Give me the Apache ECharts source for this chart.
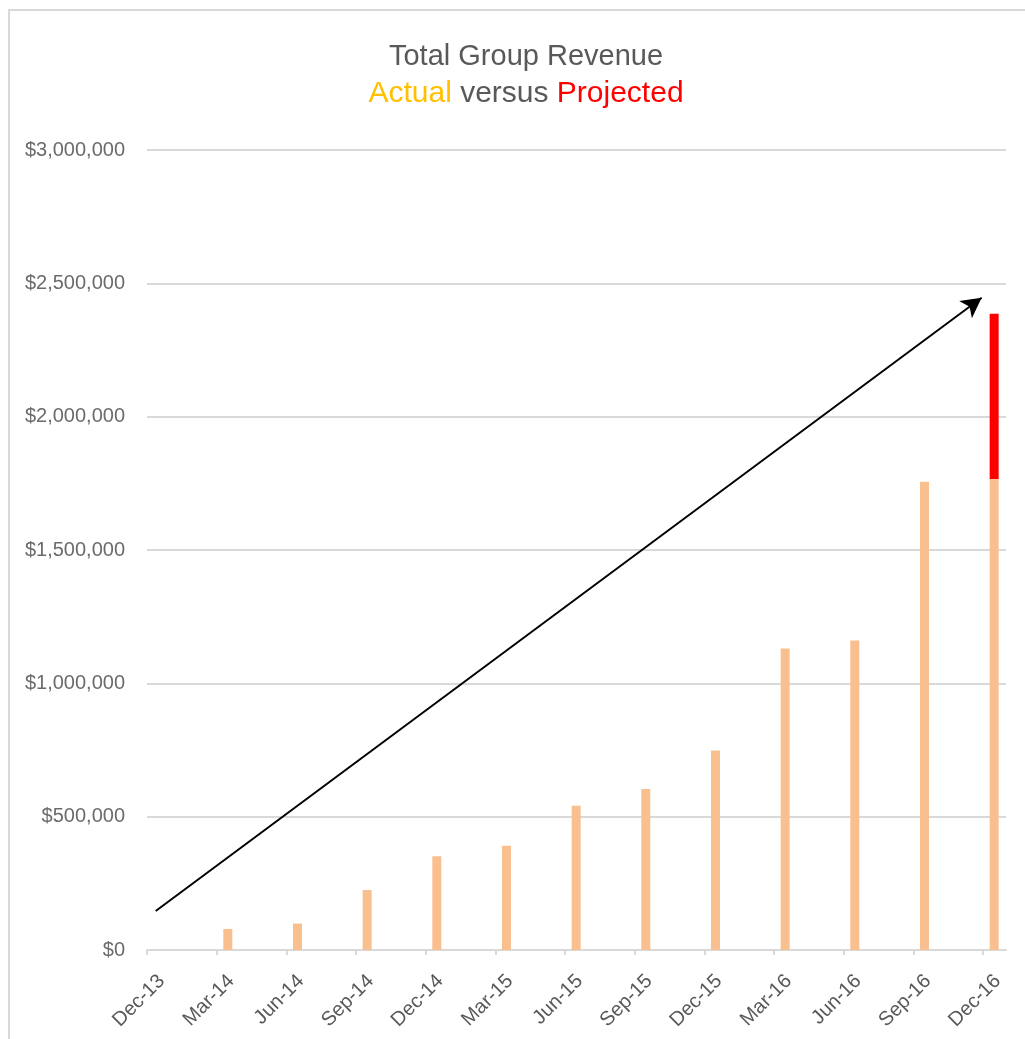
<!DOCTYPE html>
<html>
<head>
<meta charset="utf-8">
<script src="https://cdn.jsdelivr.net/npm/echarts@6/dist/echarts.min.js"></script>
<style>
  html, body { margin: 0; padding: 0; background: #fff; }
  #chart { width: 1025px; height: 1039px; }
</style>
</head>
<body>
<div id="chart"></div>
<script>
// ---- data ----
const categories = ['Dec-13','Mar-14','Jun-14','Sep-14','Dec-14','Mar-15','Jun-15','Sep-15','Dec-15','Mar-16','Jun-16','Sep-16','Dec-16'];
const actualValues = [null, 79000, 99000, 225000, 352000, 391000, 541000, 604000, 748000, 1131000, 1161000, 1756000, 1765000];
const projectedValues = [null, null, null, null, null, null, null, null, null, null, null, null, 621000];
const yTickValues = [0, 500000, 1000000, 1500000, 2000000, 2500000, 3000000];
// trend arrow annotation, in data units (quarter index, revenue)
const trendStart = [0.125, 146000];
const trendEnd = [11.98, 2446000];

// ---- styling constants ----
const barOffset = 0.16;     // bars sit slightly right of their tick (date axis)
const labelOffset = 0.21;   // rotated labels sit right of tick
const barPx = 9;
const narrow = '"Liberation Sans Narrow", "Arial Narrow", "Liberation Sans", Arial, sans-serif';
const regular = '"Liberation Sans", Arial, sans-serif';

const idx = categories.map((c, i) => i);
const toPts = arr => arr.map((v, i) => [i + barOffset, v == null ? '-' : v]);
// projected segment stacked on top of the actual value
const projectedSegs = projectedValues
  .map((v, i) => v == null ? null : [i + barOffset, actualValues[i] || 0, (actualValues[i] || 0) + v])
  .filter(d => d);

const chart = echarts.init(document.getElementById('chart'), null, { renderer: 'canvas' });

const fmtMoney = v => '$' + Math.round(v).toString().replace(/\B(?=(\d{3})+(?!\d))/g, ',');
const line1Font = { fontSize: 29, fontFamily: regular, fontWeight: 'normal', lineHeight: 37 };
const line2Font = { fontSize: 30, fontFamily: regular, fontWeight: 'normal', lineHeight: 38 };

chart.setOption({
  animation: false,
  backgroundColor: '#fff',
  title: {
    text: '{g|Total Group Revenue}\n{a|Actual}{h| versus }{p|Projected}',
    left: 521,
    top: 33,
    textAlign: 'center',
    textStyle: {
      fontWeight: 'normal',
      rich: {
        g: Object.assign({ color: '#595959' }, line1Font),
        h: Object.assign({ color: '#595959' }, line2Font),
        a: Object.assign({ color: '#FFC000' }, line2Font),
        p: Object.assign({ color: '#FF0000' }, line2Font)
      }
    }
  },
  graphic: [{
    type: 'rect',
    shape: { x: 9, y: 10, width: 1200, height: 1200 },
    style: { fill: 'none', stroke: '#D9D9D9', lineWidth: 2 },
    silent: true
  }],
  grid: { left: 147, right: 19, top: 150, bottom: 89, containLabel: false },
  xAxis: {
    type: 'value',
    min: 0,
    max: 12.33,
    splitLine: { show: false },
    axisLine: { show: true, lineStyle: { color: '#D9D9D9', width: 2 } },
    axisTick: { show: true, length: 5, customValues: idx, lineStyle: { color: '#D9D9D9', width: 2 } },
    axisLabel: {
      customValues: idx.map(i => i + labelOffset),
      formatter: v => categories[Math.round(v - labelOffset)],
      rotate: 45,
      margin: 28,
      color: '#595959',
      fontSize: 20,
      fontFamily: narrow
    }
  },
  yAxis: {
    type: 'value',
    min: 0,
    max: 3000000,
    interval: 500000,
    axisLine: { show: false },
    axisTick: { show: false },
    splitLine: { lineStyle: { color: '#D9D9D9', width: 2 } },
    axisLabel: {
      formatter: fmtMoney,
      color: '#6B6B6B',
      fontSize: 20,
      fontFamily: narrow,
      margin: 22
    }
  },
  series: [
    {
      name: 'Actual',
      type: 'bar',
      barWidth: barPx,
      itemStyle: { color: '#F9BF8F' },
      data: toPts(actualValues),
      z: 3,
      markLine: {
        silent: true,
        symbol: ['none', 'arrow'],
        symbolSize: [16, 20],
        label: { show: false },
        lineStyle: { color: '#000', width: 2, type: 'solid' },
        data: [[{ coord: trendStart }, { coord: trendEnd }]]
      }
    },
    {
      name: 'Projected',
      type: 'custom',
      z: 3,
      encode: { x: 0, y: [1, 2] },
      data: projectedSegs,
      renderItem: (params, api) => {
        const bottom = api.coord([api.value(0), api.value(1)]);
        const top = api.coord([api.value(0), api.value(2)]);
        return {
          type: 'rect',
          shape: { x: bottom[0] - barPx / 2, y: top[1], width: barPx, height: bottom[1] - top[1] },
          style: { fill: '#FF0000' }
        };
      }
    }
  ]
});
</script>
</body>
</html>
